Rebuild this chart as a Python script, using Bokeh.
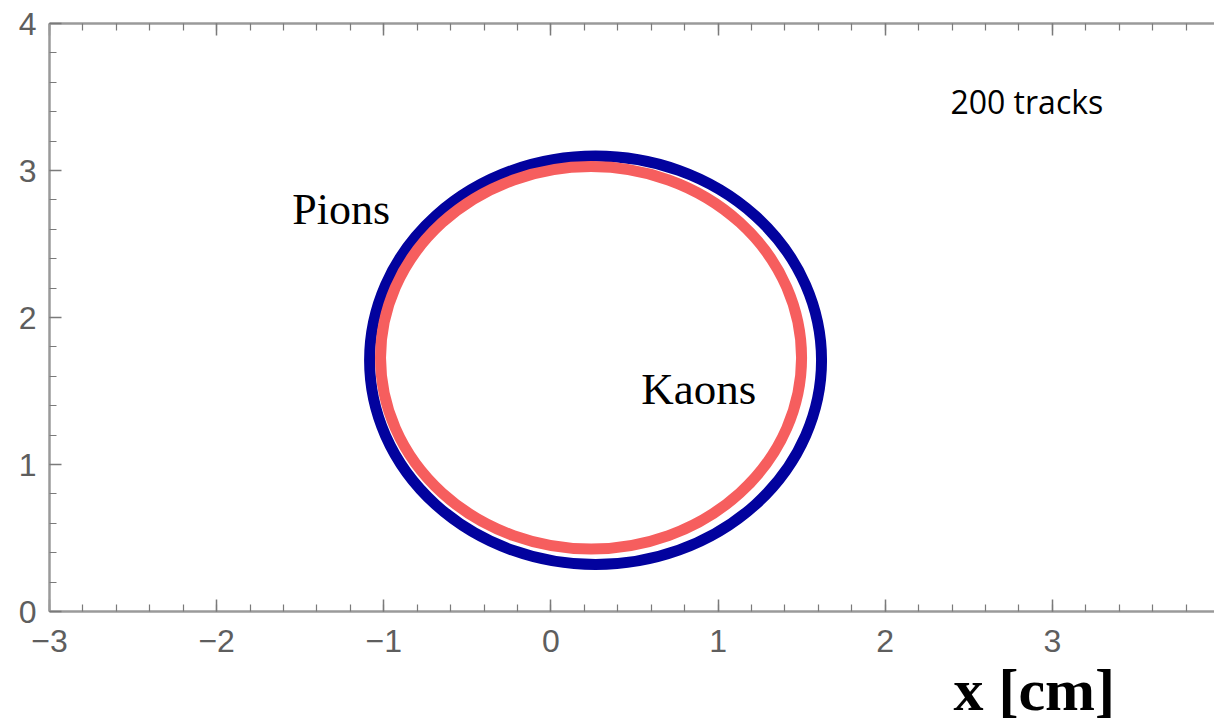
from bokeh.plotting import figure
from bokeh.models import Range1d, LinearAxis, SingleIntervalTicker, Label, Title
from bokeh.embed import file_html
from bokeh.resources import INLINE

# ---- data ----
ring_names = ["Pions", "Kaons"]
ring_cx = [0.267, 0.240]      # ring centre x [cm]
ring_cy = [1.709, 1.726]      # ring centre y [cm]
ring_w = [2.704, 2.519]       # ring width (x-diameter) [cm]
ring_h = [2.779, 2.602]       # ring height (y-diameter) [cm]
ring_colors = ["#02029e", "#f65e5e"]

x_tick_values = [-3, -2, -1, 0, 1, 2, 3, 4]
x_tick_labels = ["\u22123", "\u22122", "\u22121", "0", "1", "2", "3", "4"]
y_tick_values = [0, 1, 2, 3, 4]

annotation_text = "200 tracks"
x_label = "x [cm]"

p = figure(frame_width=1165, frame_height=588, output_backend="svg", toolbar_location=None,
           x_range=Range1d(-3, 3.97), y_range=Range1d(0, 4),
           x_axis_location=None, y_axis_location=None,
           min_border_left=49, min_border_right=0, min_border_top=23, min_border_bottom=0)
p.outline_line_color = None
p.xgrid.visible = False
p.ygrid.visible = False
p.background_fill_color = "white"
p.border_fill_color = "white"

AX = "#9a9a9a"
TK = "#7a7a7a"
LB = "#5e5e5e"

def style(ax):
    ax.axis_line_color = AX
    ax.axis_line_width = 2.5
    ax.major_tick_line_color = TK
    ax.minor_tick_line_color = TK
    ax.major_tick_line_width = 1.5
    ax.minor_tick_line_width = 1.2
    ax.major_tick_in = 12
    ax.major_tick_out = 0
    ax.minor_tick_in = 7
    ax.minor_tick_out = 0
    ax.major_label_text_color = LB
    ax.major_label_text_font = "Liberation Sans"
    ax.major_label_text_font_size = "32px"

xb = LinearAxis(ticker=SingleIntervalTicker(interval=1, num_minor_ticks=5))
style(xb)
xb.major_label_standoff = 18
xb.major_label_overrides = {v: t for v, t in zip(x_tick_values, x_tick_labels)}
p.add_layout(xb, "below")

# top frame line with inward ticks, no labels
xt = LinearAxis(ticker=SingleIntervalTicker(interval=1, num_minor_ticks=5))
style(xt)
xt.major_label_standoff = 0
xt.major_label_text_font_size = "1px"
xt.major_label_text_alpha = 0
p.add_layout(xt, "above")

yl = LinearAxis(ticker=SingleIntervalTicker(interval=1, num_minor_ticks=5))
style(yl)
yl.major_label_standoff = 13
yl.major_label_overrides = {v: str(v) for v in y_tick_values}
p.add_layout(yl, "left")

# x-axis title, right part of the bottom panel
p.add_layout(Title(text=x_label, align="left", offset=904, standoff=0,
                   text_font="Liberation Serif", text_font_style="bold",
                   text_font_size="60px", text_color="black"), "below")

# rings
p.ellipse(x=ring_cx[:1], y=ring_cy[:1], width=ring_w[:1], height=ring_h[:1],
          fill_color=None, line_color=ring_colors[0], line_width=11)
p.ellipse(x=ring_cx[1:], y=ring_cy[1:], width=ring_w[1:], height=ring_h[1:],
          fill_color=None, line_color=ring_colors[1], line_width=11)

# labels
p.add_layout(Label(x=-1.547, y=2.735, text=ring_names[0], text_font="Liberation Serif",
                   text_font_size="44px", text_color="black", text_baseline="alphabetic"))
p.add_layout(Label(x=0.54, y=1.517, text=ring_names[1], text_font="Liberation Serif",
                   text_font_size="45px", text_color="black", text_baseline="alphabetic"))
p.add_layout(Label(x=2.39, y=3.469, text=annotation_text, text_font="Open Sans",
                   text_font_size="32px", text_color="black", text_baseline="alphabetic"))

open("out.html", "w").write(file_html(p, INLINE))
